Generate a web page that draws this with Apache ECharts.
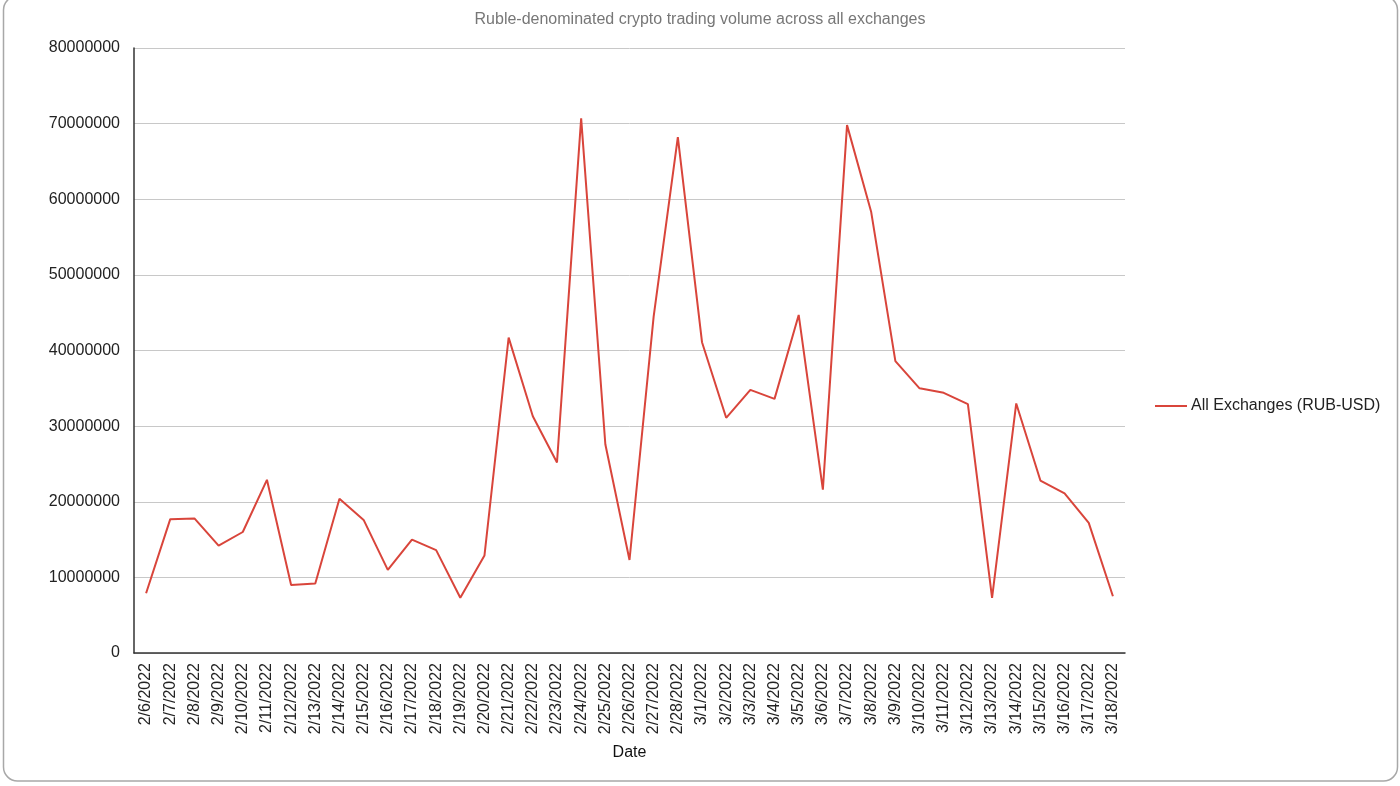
<!DOCTYPE html>
<html>
<head>
<meta charset="utf-8">
<script src="https://cdn.jsdelivr.net/npm/echarts@6/dist/echarts.min.js"></script>
<style>
html,body{margin:0;padding:0;background:#fff;}
#chart{width:1400px;height:786px;}
</style>
</head>
<body>
<div id="chart"></div>
<script>
var categories = ['2/6/2022','2/7/2022','2/8/2022','2/9/2022','2/10/2022','2/11/2022','2/12/2022','2/13/2022','2/14/2022','2/15/2022','2/16/2022','2/17/2022','2/18/2022','2/19/2022','2/20/2022','2/21/2022','2/22/2022','2/23/2022','2/24/2022','2/25/2022','2/26/2022','2/27/2022','2/28/2022','3/1/2022','3/2/2022','3/3/2022','3/4/2022','3/5/2022','3/6/2022','3/7/2022','3/8/2022','3/9/2022','3/10/2022','3/11/2022','3/12/2022','3/13/2022','3/14/2022','3/15/2022','3/16/2022','3/17/2022','3/18/2022'];
var volumeRUB = [7900000,17700000,17800000,14200000,16000000,22900000,9000000,9200000,20400000,17600000,11000000,15000000,13600000,7300000,12900000,41700000,31300000,25200000,70700000,27600000,12300000,44500000,68200000,41100000,31100000,34800000,33600000,44700000,21600000,69800000,58300000,38600000,35000000,34400000,32900000,7300000,33000000,22800000,21100000,17200000,7500000];
var seriesName = 'All Exchanges (RUB-USD)';
var titleText = 'Ruble-denominated crypto trading volume across all exchanges';
var FONT = 'Liberation Sans, Arial, sans-serif';

var chart = echarts.init(document.getElementById('chart'));
chart.setOption({
  backgroundColor: '#fff',
  animation: false,
  title: {
    text: titleText,
    left: 'center',
    top: 7,
    textStyle: {color: '#777', fontSize: 16, fontWeight: 'normal', fontFamily: FONT}
  },
  legend: {
    orient: 'vertical',
    left: 1150,
    top: 393,
    itemWidth: 32,
    itemHeight: 2,
    itemGap: 5,
    icon: 'rect',
    textStyle: {color: '#222', fontSize: 16, fontFamily: FONT, padding: [0, 0, 0, -1]},
    data: [seriesName]
  },
  grid: {left: 134, right: 275, top: 48, bottom: 133, containLabel: false},
  xAxis: {
    type: 'category',
    data: categories,
    boundaryGap: true,
    name: 'Date',
    nameLocation: 'middle',
    nameGap: 92,
    nameTextStyle: {color: '#111', fontSize: 16, fontFamily: FONT},
    axisLine: {lineStyle: {color: '#333', width: 1.5}},
    axisTick: {show: false},
    axisLabel: {rotate: 90, interval: 0, color: '#222', fontSize: 16, margin: 10, fontFamily: FONT},
    splitLine: {show: false}
  },
  yAxis: {
    type: 'value',
    min: 0,
    max: 80000000,
    interval: 10000000,
    axisLine: {show: true, lineStyle: {color: '#333', width: 1.5}},
    axisTick: {show: false},
    axisLabel: {color: '#222', fontSize: 16, margin: 14, fontFamily: FONT, formatter: function (v) { return String(v); }},
    splitLine: {lineStyle: {color: '#c8c8c8', width: 1}}
  },
  graphic: [{
    type: 'rect',
    z: -10,
    shape: {x: 3.5, y: -4, width: 1394, height: 785, r: 14},
    style: {fill: 'none', stroke: '#a8a8a8', lineWidth: 1.5}
  }],
  series: [{
    name: seriesName,
    type: 'line',
    data: volumeRUB,
    symbol: 'none',
    lineStyle: {color: '#d9453b', width: 2},
    itemStyle: {color: '#d9453b'}
  }]
});
</script>
</body>
</html>
